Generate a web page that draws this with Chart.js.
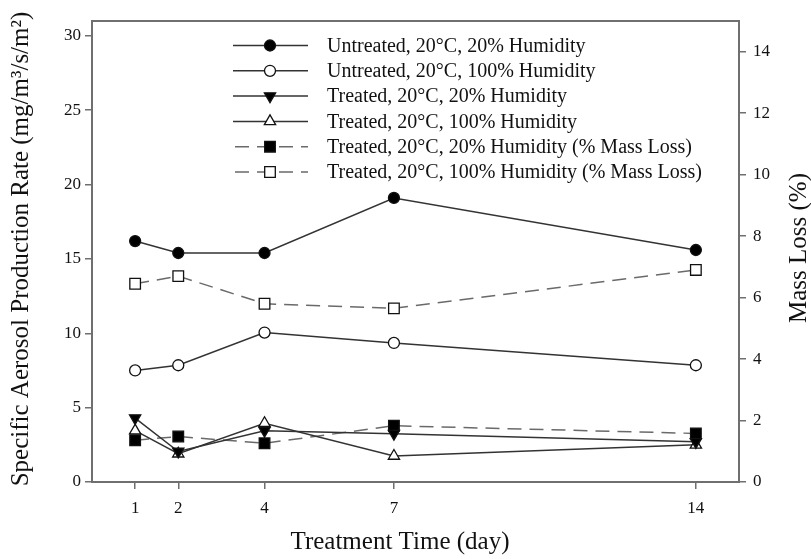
<!DOCTYPE html>
<html>
<head>
<meta charset="utf-8">
<script src="https://cdn.jsdelivr.net/npm/chart.js@4.4.1/dist/chart.umd.min.js"></script>
<style>
    html, body { margin: 0; padding: 0; background: #fff; }
    #chart { display: block; }
</style>
</head>
<body>
<canvas id="chart" width="811" height="559"></canvas>
<script>
// values
const days = [1, 2, 4, 7, 14];
const untreated20 = [16.2, 15.4, 15.4, 19.1, 15.6];
const untreated100 = [7.5, 7.85, 10.05, 9.35, 7.85];
const treated20 = [4.3, 2.05, 3.45, 3.25, 2.7];
const treated100 = [3.45, 1.9, 3.95, 1.75, 2.5];
const massLoss20 = [1.36, 1.48, 1.26, 1.83, 1.58];
const massLoss100 = [6.45, 6.7, 5.8, 5.65, 6.9];

const leftTicks = [0, 5, 10, 15, 20, 25, 30];
const rightTicks = [0, 2, 4, 6, 8, 10, 12, 14];

const xTitle = 'Treatment Time (day)';
const yTitle = 'Specific Aerosol Production Rate (mg/m³/s/m²)';
const y2Title = 'Mass Loss (%)';

const FONT = "'Liberation Serif', 'DejaVu Serif', serif";
const SOLID = '#333';
const DASHED = '#6a6a6a';
const FRAME = '#6f6f6f';

function points(values) {
    return days.map((d, i) => ({ x: d, y: values[i] }));
}

function series(label, values, opts) {
    return {
        label,
        data: points(values),
        yAxisID: opts.axis ?? 'y',
        borderColor: opts.dashed ? DASHED : SOLID,
        borderWidth: 1.5,
        borderDash: opts.dashed ? [14, 8] : [],
        pointStyle: opts.style,
        pointRotation: opts.rotation ?? 0,
        pointRadius: opts.radius,
        pointBackgroundColor: opts.filled ? '#000' : '#fff',
        pointBorderColor: '#111',
        pointBorderWidth: 1.3,
        tension: 0,
        fill: false,
    };
}

const datasets = [
    series('Untreated, 20°C, 20% Humidity', untreated20, { style: 'circle', radius: 5.5, filled: true }),
    series('Untreated, 20°C, 100% Humidity', untreated100, { style: 'circle', radius: 5.5, filled: false }),
    series('Treated, 20°C, 20% Humidity', treated20, { style: 'triangle', rotation: 180, radius: 6.5, filled: true }),
    series('Treated, 20°C, 100% Humidity', treated100, { style: 'triangle', radius: 6.5, filled: false }),
    series('Treated, 20°C, 20% Humidity (% Mass Loss)', massLoss20, { style: 'rect', radius: 7.5, filled: true, dashed: true, axis: 'y2' }),
    series('Treated, 20°C, 100% Humidity (% Mass Loss)', massLoss100, { style: 'rect', radius: 7.5, filled: false, dashed: true, axis: 'y2' }),
];

// box around the plot area
const framePlugin = {
    id: 'frame',
    beforeDatasetsDraw(chart) {
        const { ctx, chartArea: a } = chart;
        ctx.save();
        ctx.strokeStyle = FRAME;
        ctx.lineWidth = 2;
        ctx.strokeRect(a.left, a.top, a.right - a.left, a.bottom - a.top);
        ctx.restore();
    },
};

function drawTitle(ctx, text, x, y, angle) {
    ctx.save();
    ctx.translate(x, y);
    ctx.rotate(angle);
    ctx.fillStyle = '#111';
    ctx.font = `25px ${FONT}`;
    ctx.textAlign = 'center';
    ctx.textBaseline = 'middle';
    ctx.fillText(text, 0, 0);
    ctx.restore();
}

// legend drawn as line + marker samples, like the figure
const legendPlugin = {
    id: 'sampleLegend',
    afterDatasetsDraw(chart) {
        const { ctx } = chart;
        const x0 = 233;
        const x1 = 308;
        const xm = 270;
        const textX = 327;
        const top = 45.5;
        const step = 25.3;

        ctx.save();
        chart.data.datasets.forEach((ds, i) => {
            const y = top + i * step;

            ctx.strokeStyle = ds.borderColor;
            ctx.lineWidth = ds.borderWidth;
            ctx.setLineDash(ds.borderDash);
            ctx.lineDashOffset = ds.borderDash.length ? -2 : 0;
            ctx.beginPath();
            ctx.moveTo(x0, y);
            ctx.lineTo(x1, y);
            ctx.stroke();
            ctx.setLineDash([]);

            ctx.fillStyle = ds.pointBackgroundColor;
            ctx.strokeStyle = ds.pointBorderColor;
            ctx.lineWidth = ds.pointBorderWidth;
            Chart.helpers.drawPoint(ctx, {
                pointStyle: ds.pointStyle,
                rotation: ds.pointRotation,
                radius: ds.pointRadius,
                borderWidth: ds.pointBorderWidth,
            }, xm, y);

            ctx.fillStyle = '#111';
            ctx.font = `20px ${FONT}`;
            ctx.textAlign = 'left';
            ctx.textBaseline = 'middle';
            ctx.fillText(ds.label, textX, y + 1);
        });
        ctx.restore();

        // axis titles; the right one reads bottom to top as in the figure
        drawTitle(ctx, xTitle, 400, 542, 0);
        drawTitle(ctx, yTitle, 21, 249, -Math.PI / 2);
        drawTitle(ctx, y2Title, 799, 248, -Math.PI / 2);
    },
};

const tickFont = { family: FONT, size: 17 };
const grid = {
    display: true,
    drawOnChartArea: false,
    drawTicks: true,
    tickLength: 7,
    color: FRAME,
    lineWidth: 1.5,
};

new Chart(document.getElementById('chart'), {
    type: 'line',
    data: { datasets },
    options: {
        responsive: false,
        devicePixelRatio: 1,
        animation: false,
        layout: { padding: { top: 21, left: 0, right: 0, bottom: 0 } },
        plugins: {
            legend: { display: false },
            tooltip: { enabled: false },
        },
        scales: {
            x: {
                type: 'linear',
                min: 0,
                max: 15,
                border: { display: false },
                grid,
                afterBuildTicks: (scale) => { scale.ticks = days.map((v) => ({ value: v })); },
                afterFit: (scale) => { scale.height = 77; },
                ticks: { font: tickFont, color: '#111', padding: 9, maxRotation: 0 },
            },
            y: {
                position: 'left',
                min: 0,
                max: 31,
                border: { display: false },
                grid,
                afterBuildTicks: (scale) => { scale.ticks = leftTicks.map((v) => ({ value: v })); },
                afterFit: (scale) => { scale.width = 92; },
                ticks: { font: tickFont, color: '#111', padding: 4 },
            },
            y2: {
                position: 'right',
                min: 0,
                max: 15,
                border: { display: false },
                grid,
                afterBuildTicks: (scale) => { scale.ticks = rightTicks.map((v) => ({ value: v })); },
                afterFit: (scale) => { scale.width = 72; },
                ticks: { font: tickFont, color: '#111', padding: 7 },
            },
        },
    },
    plugins: [framePlugin, legendPlugin],
});
</script>
</body>
</html>
